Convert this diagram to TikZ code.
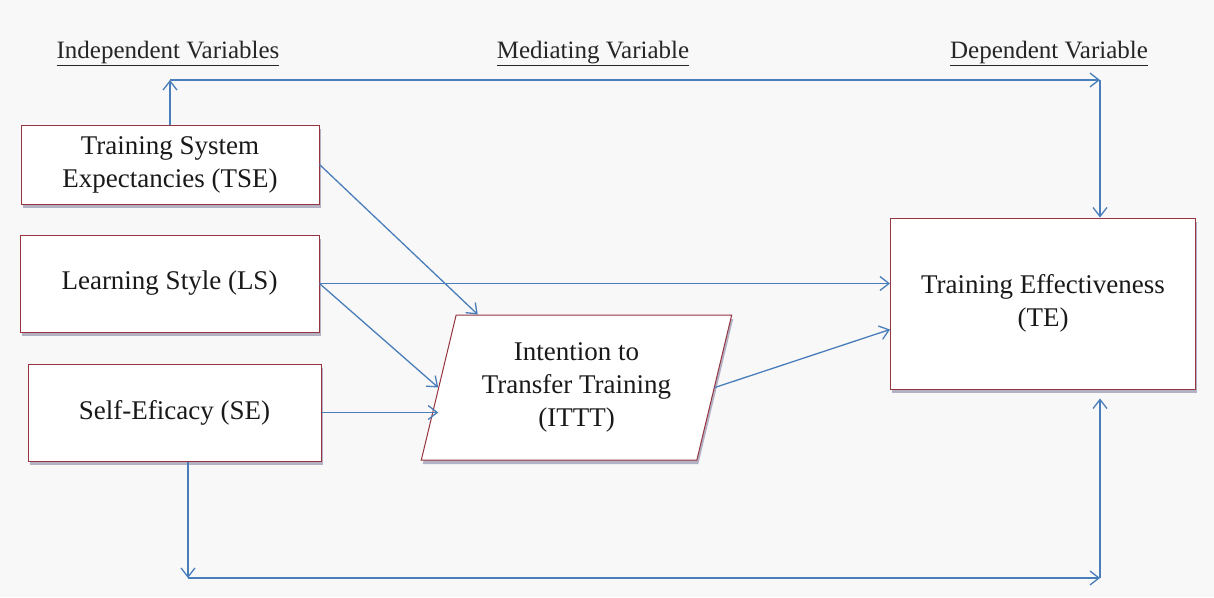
\documentclass[tikz,border=0pt]{standalone}
\usepackage{fontspec}
\setmainfont{Liberation Serif}
\usetikzlibrary{arrows.meta,shapes.geometric,shadows,calc}
\definecolor{linkblue}{RGB}{74,126,187}
\definecolor{boxred}{RGB}{150,52,64}
\definecolor{bgpaper}{RGB}{248,248,248}
\begin{document}
\begin{tikzpicture}[x=1pt,y=-1pt,
  varbox/.style={draw=boxred, line width=1pt, fill=white, align=center,
    font=\fontsize{27}{33}\selectfont, text=black!90, inner sep=0pt,
    drop shadow={shadow xshift=1.5pt, shadow yshift=-4pt, opacity=0.28, fill=black!75!blue}},
  link/.style={draw=linkblue, line width=1.3pt,
    -{Straight Barb[length=9pt,width=14pt,line width=1.3pt]}},
  heading/.style={font=\fontsize{25}{30}\selectfont, text=black!85, anchor=base}]

% paper
\fill[bgpaper] (0,0) rectangle (1214,597);
\useasboundingbox (0,0) rectangle (1214,597);

% column headings
\node[heading] (hind) at (168,58) {\underline{Independent Variables}};
\node[heading] (hmed) at (593,58) {\underline{Mediating Variable}};
\node[heading] (hdep) at (1049,58) {\underline{Dependent Variable}};

% independent variables
\node[varbox, minimum width=298pt, minimum height=79pt] (tse) at (170,164.5)
  {Training System\\Expectancies (TSE)};
\node[varbox, minimum width=299pt, minimum height=97pt] (ls) at (169.5,283.5)
  {Learning Style (LS)};
\node[varbox, minimum width=293pt, minimum height=97pt] (se) at (174.5,412.5)
  {Self-Eficacy (SE)};

% mediating variable
\node[varbox, trapezium, trapezium left angle=73, trapezium right angle=107,
  trapezium stretches=true, minimum width=311pt, minimum height=145pt] (ittt) at (576.5,387.5)
  {Intention to\\Transfer Training\\(ITTT)};

% dependent variable
\node[varbox, minimum width=305pt, minimum height=171pt] (te) at (1043,303.5)
  {Training Effectiveness\\(TE)};

% direct links
\draw[link] (tse.east) -- ($(ittt.top left corner)+(22,0)$);
\draw[link] (ls.east) -- (ls.east -| te.west);
\draw[link] (ls.east) -- (ittt.west);
\draw[link] (se.east) -- (se.east -| ittt.west);
\draw[link] (ittt.east) -- ($(te.west)+(0,26)$);

% route over the top
\coordinate (toprow) at (0,80);
\coordinate (tl) at (tse.north |- toprow);
\coordinate (tr) at (1100,80);
\draw[link] (tse.north) -- (tl);
\draw[link] (tl) -- (tr);
\draw[link] (tr) -- (tr |- te.north);

% route along the bottom
\coordinate (bl) at (188,578);
\coordinate (br) at (1100,578);
\draw[link] (bl |- se.south) -- (bl);
\draw[link] (bl) -- (br);
\draw[link] (br) -- ($(br |- te.south)+(0,9)$);
\end{tikzpicture}
\end{document}
